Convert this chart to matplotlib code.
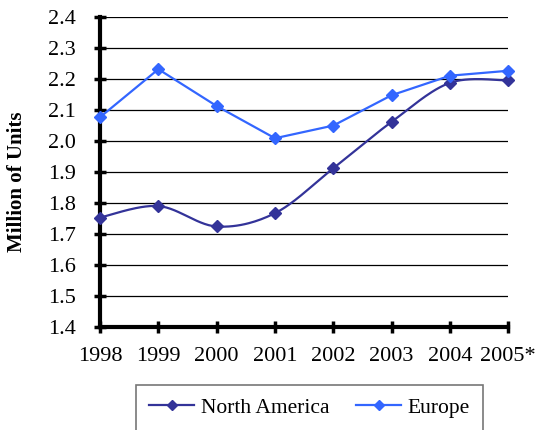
import numpy as np
import matplotlib.pyplot as plt
from matplotlib.lines import Line2D

years = ['1998', '1999', '2000', '2001', '2002', '2003', '2004', '2005*']
north_america = [1.753, 1.790, 1.724, 1.767, 1.912, 2.062, 2.188, 2.196]
europe = [2.077, 2.232, 2.113, 2.009, 2.050, 2.148, 2.211, 2.227]

na_color = '#333399'
eu_color = '#3366FF'

plt.rcParams['font.family'] = ['Liberation Serif', 'DejaVu Serif']


def smooth(xs, ys, n=30):
    # Catmull-Rom style smoothing, like a spreadsheet "smoothed line"
    xs = np.asarray(xs, float)
    ys = np.asarray(ys, float)
    px = np.concatenate([[xs[0]], xs, [xs[-1]]])
    py = np.concatenate([[ys[0]], ys, [ys[-1]]])
    outx, outy = [], []
    for i in range(1, len(px) - 2):
        p0 = np.array([px[i - 1], py[i - 1]])
        p1 = np.array([px[i], py[i]])
        p2 = np.array([px[i + 1], py[i + 1]])
        p3 = np.array([px[i + 2], py[i + 2]])
        c1 = p1 + (p2 - p0) / 6
        c2 = p2 - (p3 - p1) / 6
        t = np.linspace(0, 1, n)[:, None]
        b = ((1 - t) ** 3) * p1 + 3 * ((1 - t) ** 2) * t * c1 + 3 * (1 - t) * t ** 2 * c2 + t ** 3 * p2
        outx.extend(b[:, 0])
        outy.extend(b[:, 1])
    return outx, outy


fig = plt.figure(figsize=(5.35, 4.3), dpi=100)
ax = fig.add_axes([0.187, 0.240, 0.763, 0.720])

x = np.arange(len(years))

ax.set_ylim(1.4, 2.4)
ax.set_xlim(0, len(years) - 1)
ax.set_yticks(np.arange(1.4, 2.41, 0.1))
ax.yaxis.grid(True, color='black', linewidth=0.9)
ax.set_axisbelow(True)

sx, sy = smooth(x, north_america)
ax.plot(sx, sy, color=na_color, linewidth=1.6, clip_on=False, zorder=3)
ax.plot(x, north_america, linestyle='none', marker='D', markersize=6,
        color=na_color, clip_on=False, zorder=4)
ax.plot(x, europe, color=eu_color, linewidth=1.6, marker='D', markersize=6,
        clip_on=False, zorder=5)

ax.set_xticks(x)
ax.set_xticklabels(years)
ax.set_yticklabels(['%.1f' % v for v in np.arange(1.4, 2.41, 0.1)])
ax.tick_params(axis='both', direction='inout', length=9, width=2.5,
               labelsize=16)
ax.tick_params(axis='y', pad=13)
ax.tick_params(axis='x', pad=10)

for s in ['top', 'right']:
    ax.spines[s].set_visible(False)
for s in ['left', 'bottom']:
    ax.spines[s].set_linewidth(3)

fig.text(17 / 535, 1 - 182 / 430, 'Million of Units', rotation=90,
         fontsize=15, fontweight='bold', ha='center', va='center')

handles = [
    Line2D([0], [0], color=na_color, linewidth=1.6, marker='D', markersize=5),
    Line2D([0], [0], color=eu_color, linewidth=1.6, marker='D', markersize=5),
]
leg = fig.legend(handles, ['North America', 'Europe'], loc='upper left',
                 bbox_to_anchor=(136 / 535, 1 - 385 / 430), ncol=2,
                 fontsize=15.5, frameon=True, fancybox=False, edgecolor='#555555',
                 handlelength=2.1, columnspacing=1.25, borderpad=0.6,
                 handletextpad=0.3, borderaxespad=0)
leg.get_frame().set_linewidth(1.2)

fig.savefig('out.png', dpi=100)
